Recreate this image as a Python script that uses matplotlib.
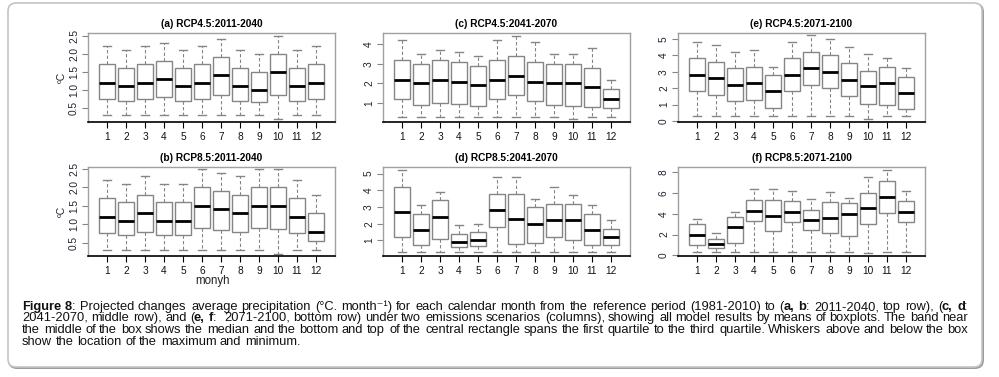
import matplotlib
matplotlib.use('Agg')
import matplotlib.pyplot as plt
from matplotlib.patches import FancyBboxPatch
from matplotlib.transforms import IdentityTransform

plt.rcParams['font.family'] = ['Liberation Sans', 'DejaVu Sans']

W, H = 999, 377
months = [str(m) for m in range(1, 13)]

# (a) RCP4.5:2011-2040
a_hi = [2.2, 2.1, 2.2, 2.3, 2.1, 2.2, 2.4, 2.1, 2.0, 2.5, 2.1, 2.2]
a_q3 = [1.7, 1.6, 1.7, 1.8, 1.6, 1.7, 1.9, 1.6, 1.5, 2.0, 1.6, 1.7]
a_med = [1.2, 1.1, 1.2, 1.3, 1.1, 1.2, 1.4, 1.1, 1.0, 1.5, 1.1, 1.2]
a_q1 = [0.75, 0.7, 0.75, 0.8, 0.7, 0.75, 0.85, 0.7, 0.65, 0.85, 0.7, 0.75]
a_lo = [0.3, 0.3, 0.3, 0.3, 0.3, 0.3, 0.3, 0.3, 0.3, 0.2, 0.3, 0.3]

# (b) RCP8.5:2011-2040
b_hi = [2.2, 2.1, 2.3, 2.1, 2.1, 2.5, 2.4, 2.3, 2.5, 2.5, 2.2, 1.8]
b_q3 = [1.7, 1.6, 1.8, 1.6, 1.6, 2.0, 1.9, 1.8, 2.0, 2.0, 1.7, 1.3]
b_med = [1.2, 1.1, 1.3, 1.1, 1.1, 1.5, 1.4, 1.3, 1.5, 1.5, 1.2, 0.8]
b_q1 = [0.75, 0.7, 0.8, 0.7, 0.7, 0.9, 0.85, 0.8, 0.9, 0.86, 0.75, 0.55]
b_lo = [0.3, 0.3, 0.3, 0.3, 0.3, 0.3, 0.3, 0.3, 0.3, 0.2, 0.3, 0.3]

# (c) RCP4.5:2041-2070
c_hi = [4.2, 3.5, 3.7, 3.6, 3.4, 4.2, 4.4, 4.1, 3.5, 3.5, 3.8, 2.2]
c_q3 = [3.2, 3.0, 3.2, 3.1, 2.9, 3.2, 3.4, 3.1, 3.0, 3.0, 2.8, 1.7]
c_med = [2.2, 2.0, 2.2, 2.1, 1.9, 2.2, 2.4, 2.1, 2.0, 2.0, 1.8, 1.2]
c_q1 = [1.2, 0.9, 1.0, 0.95, 0.85, 1.2, 1.4, 1.1, 0.9, 0.85, 0.8, 0.75]
c_lo = [0.3, 0.3, 0.3, 0.3, 0.3, 0.3, 0.3, 0.3, 0.3, 0.2, 0.3, 0.3]

# (d) RCP8.5:2041-2070
d_hi = [5.2, 3.1, 3.9, 1.9, 2.0, 4.8, 4.8, 3.5, 4.2, 3.7, 3.1, 2.2]
d_q3 = [4.2, 2.6, 3.4, 1.4, 1.5, 3.8, 3.8, 3.0, 3.2, 3.2, 2.6, 1.7]
d_med = [2.7, 1.6, 2.4, 0.9, 1.0, 2.8, 2.3, 2.0, 2.2, 2.2, 1.6, 1.2]
d_q1 = [1.2, 0.7, 1.1, 0.6, 0.65, 1.8, 0.8, 0.85, 1.2, 1.0, 0.7, 0.75]
d_lo = [0.3, 0.3, 0.3, 0.3, 0.3, 0.3, 0.3, 0.3, 0.3, 0.3, 0.3, 0.3]

# (e) RCP4.5:2071-2100
e_hi = [4.8, 4.6, 4.2, 4.3, 3.3, 4.8, 5.2, 5.0, 4.5, 4.1, 3.8, 3.2]
e_q3 = [3.8, 3.6, 3.2, 3.3, 2.8, 3.8, 4.2, 4.0, 3.5, 3.05, 3.3, 2.7]
e_med = [2.8, 2.6, 2.2, 2.3, 1.8, 2.8, 3.2, 3.0, 2.5, 2.1, 2.3, 1.7]
e_q1 = [1.8, 1.6, 1.2, 1.3, 0.8, 1.8, 2.2, 2.0, 1.5, 1.05, 1.0, 0.7]
e_lo = [0.3, 0.3, 0.3, 0.3, 0.3, 0.3, 0.3, 0.3, 0.3, 0.15, 0.3, 0.3]

# (f) RCP8.5:2071-2100
f_hi = [3.5, 2.1, 4.2, 6.4, 6.4, 6.2, 5.4, 6.1, 5.5, 7.5, 8.2, 6.2]
f_q3 = [3.0, 1.6, 3.7, 5.3, 5.3, 5.2, 4.4, 5.1, 5.0, 6.0, 7.1, 5.2]
f_med = [2.0, 1.1, 2.7, 4.3, 3.8, 4.2, 3.4, 3.6, 4.0, 4.5, 5.6, 4.2]
f_q1 = [0.95, 0.66, 1.2, 3.3, 2.3, 3.2, 2.4, 2.1, 1.9, 3.0, 4.1, 3.2]
f_lo = [0.3, 0.3, 0.3, 0.3, 0.3, 0.3, 0.3, 0.3, 0.3, 0.2, 0.3, 0.3]

caption = [
    "*Figure* *8*: Projected changes average precipitation (°C. month⁻¹) for each calendar month "
    "from the reference period (1981-2010) to (*a,* *b*: 2011-2040, top row), (*c,* *d*:",
    "2041-2070, middle row), and (*e,* *f*:  2071-2100, bottom row) under two emissions scenarios "
    "(columns), showing all model results by means of boxplots. The band near",
    "the middle of the box shows the median and the bottom and top of the central rectangle spans "
    "the first quartile to the third quartile. Whiskers above and below the box",
    "show the location of the maximum and minimum.",
]

panels = [
    ("(a) RCP4.5:2011-2040", (a_lo, a_q1, a_med, a_q3, a_hi), [0.5, 1.0, 1.5, 2.0, 2.5], (0.11, 2.57), 0, 0),
    ("(b) RCP8.5:2011-2040", (b_lo, b_q1, b_med, b_q3, b_hi), [0.5, 1.0, 1.5, 2.0, 2.5], (0.14, 2.55), 0, 1),
    ("(c) RCP4.5:2041-2070", (c_lo, c_q1, c_med, c_q3, c_hi), [1, 2, 3, 4], (0.04, 4.57), 1, 0),
    ("(d) RCP8.5:2041-2070", (d_lo, d_q1, d_med, d_q3, d_hi), [1, 2, 3, 4, 5], (0.07, 5.39), 1, 1),
    ("(e) RCP4.5:2071-2100", (e_lo, e_q1, e_med, e_q3, e_hi), [0, 1, 2, 3, 4, 5], (-0.06, 5.35), 2, 0),
    ("(f) RCP8.5:2071-2100", (f_lo, f_q1, f_med, f_q3, f_hi), [0, 2, 4, 6, 8], (-0.06, 8.48), 2, 1),
]

col_x = [(88, 335), (383, 630), (678, 925)]
row_y = [(33, 122), (167, 256)]

fig = plt.figure(figsize=(W / 100, H / 100), dpi=100)

# rounded frame around the figure
shadow = FancyBboxPatch((9, 9), 974, 364, boxstyle='round,pad=0,rounding_size=8',
                        transform=IdentityTransform(), facecolor='none', edgecolor='#9a9a9a',
                        lw=1.4, zorder=-2)
frame = FancyBboxPatch((8, 10), 974, 364, boxstyle='round,pad=0,rounding_size=8',
                       transform=IdentityTransform(), facecolor='white', edgecolor='#c4c4c4',
                       lw=1.2, zorder=-1)
fig.add_artist(shadow)
fig.add_artist(frame)

gray = '#858585'
for title, (lo, q1, med, q3, hi), yt, ylim, c, r in panels:
    x0, x1 = col_x[c]
    y0, y1 = row_y[r]
    ax = fig.add_axes([x0 / W, 1 - y1 / H, (x1 - x0) / W, (y1 - y0) / H])
    ax.patch.set_alpha(0)
    stats = [dict(whislo=lo[i], q1=q1[i], med=med[i], q3=q3[i], whishi=hi[i], fliers=[])
             for i in range(12)]
    ax.bxp(stats, positions=range(1, 13), widths=0.82, capwidths=0.42, showfliers=False,
           patch_artist=True,
           boxprops=dict(facecolor='white', edgecolor=gray, lw=1.0),
           whiskerprops=dict(color=gray, lw=0.8, ls=(0, (3, 2))),
           capprops=dict(color=gray, lw=1.0),
           medianprops=dict(color='black', lw=2.0))
    ax.set_xlim(0, 13)
    ax.set_ylim(*ylim)
    ax.set_xticks(range(1, 13))
    ax.set_xticklabels(months)
    ax.set_yticks(yt)
    ax.set_yticklabels([f'{v:.1f}' if c == 0 else str(v) for v in yt])
    ax.tick_params(axis='x', length=4, width=0.8, color='black', labelsize=7.3, pad=3.5,
                   labelcolor='#111111')
    ax.tick_params(axis='y', length=4, width=0.8, color=gray, labelsize=7.3, pad=2.5,
                   labelrotation=90, labelcolor='#222233')
    for lab in ax.get_yticklabels():
        lab.set_va('center')
    for side in ['top', 'left', 'right']:
        ax.spines[side].set_color('#a0a0a0')
        ax.spines[side].set_linewidth(1.0)
    ax.spines['bottom'].set_color('black')
    ax.spines['bottom'].set_linewidth(1.2)
    ax.set_title(title, fontsize=7.3, fontweight='bold', pad=4.5)
    if c == 0:
        fig.text(62 / W, 1 - (y0 + y1) / 2 / H, 'ºC', rotation=90, fontsize=7.5,
                 ha='center', va='center', color='#222233')

fig.text(213 / W, 1 - 281 / H, 'monyh', fontsize=8.3, ha='center', va='center', color='#222222')

# caption, word by word (bold parts marked by *...*), lines justified
renderer = fig.canvas.get_renderer()
fs = 9.3
left, right = 22, 968
base = 310
for li, line in enumerate(caption):
    words = line.split(' ')
    placed = []
    total = 0
    for w in words:
        segs = []
        for k, part in enumerate(w.split('*')):
            if part == '':
                continue
            fam = ['Liberation Sans', 'DejaVu Sans'] if '⁻' in part else 'Liberation Sans'
            t = fig.text(0, 0, part, fontsize=fs, family=fam,
                         fontweight='bold' if k % 2 else 'normal',
                         ha='left', va='baseline', color='#111111', transform=IdentityTransform())
            wd = t.get_window_extent(renderer).width
            segs.append((t, wd))
        placed.append(segs)
        total += sum(s[1] for s in segs)
    t1 = fig.text(0, 0, 'a a', fontsize=fs, family='Liberation Sans')
    t2 = fig.text(0, 0, 'aa', fontsize=fs, family='Liberation Sans')
    sp = t1.get_window_extent(renderer).width - t2.get_window_extent(renderer).width
    t1.remove()
    t2.remove()
    if li < len(caption) - 1:
        gap = (right - left - total) / (len(words) - 1)
    else:
        gap = sp
    x = left
    y = round(H - (base + li * 11.5))
    for segs in placed:
        for t, wd in segs:
            t.set_position((round(x), y))
            x += wd
        x += gap

fig.savefig('out.png', dpi=100)
